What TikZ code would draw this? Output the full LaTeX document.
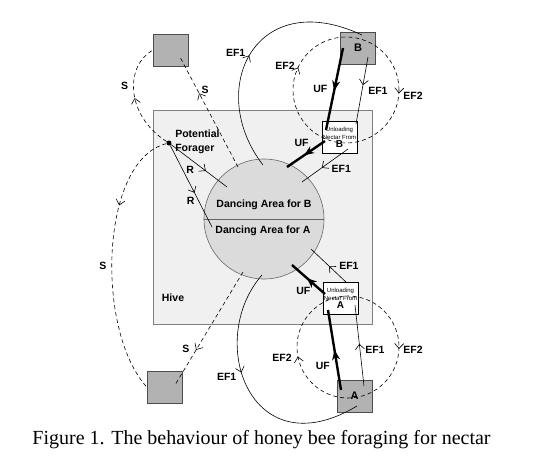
\documentclass[tikz,border=0pt]{standalone}
\usepackage{fontspec}
\setmainfont{Liberation Serif}
\setsansfont{Liberation Sans}
\usetikzlibrary{arrows.meta,decorations.markings}

\begin{document}
\begin{tikzpicture}[x=1pt, y=-1pt, line width=0.6pt,
  lbl/.style = {font=\sffamily\bfseries\fontsize{10.5}{12}\selectfont, inner sep=1pt},
  sq/.style = {draw=black!70, fill=black!30, minimum width=35pt, minimum height=32pt, inner sep=0pt, font=\sffamily\bfseries\fontsize{11}{12}\selectfont},
  unl/.style = {draw, fill=white, minimum width=35pt, minimum height=32pt, inner sep=0pt, align=center, font=\sffamily\fontsize{6}{8}\selectfont},
  mid/.style = {postaction={decorate, decoration={markings, mark=at position #1 with {\arrow{Straight Barb[length=5pt,width=9pt]}}}}},
  fly/.style = {dash pattern=on 4pt off 3pt},
  uf/.style = {line width=2.4pt, postaction={decorate, decoration={markings, mark=at position #1 with {\arrow{Stealth[length=10pt,width=8pt]}}}}}]
\path[use as bounding box, fill=white] (0,0) rectangle (533,475);

\node[draw=black!50, fill=black!6, minimum width=219pt, minimum height=214pt] (hive) at (262.5,217) {};
\node[lbl] (hl) at (173,298) {Hive};
\node[circle, draw=black!60, fill=black!14, minimum size=120pt] (dance) at (264,219) {};
\draw[black!60] (dance.west) -- (dance.east);
\node[lbl] (db) at (264,205) {Dancing Area for B};
\node[lbl] (da) at (263,231) {Dancing Area for A};

\node[sq] (s1) at (171,50) {};
\node[sq] (b) at (358,48) {B};
\node[sq] (s2) at (164.5,387) {};
\node[sq] (a) at (354.5,396) {A};
\node[unl] (ub) at (339.5,137) {Unloading\\Nectar From\\{\bfseries\fontsize{10}{10}\selectfont B}};
\node[unl] (ua) at (340.5,298) {Unloading\\Nectar From\\{\bfseries\fontsize{10}{10}\selectfont A}};
\node[circle, fill, inner sep=0pt, minimum size=5pt] (pf) at (169,143) {};
\node[lbl, anchor=west, align=left, font=\sffamily\bfseries\fontsize{10.5}{14}\selectfont] (pfl) at (174,142) {Potential\\Forager};

\coordinate (s1x) at (180,57);
\coordinate (s2x) at (175,385);
\coordinate (d1) at (238,167);
\coordinate (d2) at (243,272);
\coordinate (r1) at (227,187);
\coordinate (r2) at (212,227);
\coordinate (e1) at (263,165);
\coordinate (e2) at (262,275);
\coordinate (bx) at (362,35);
\coordinate (ax) at (357,406);
\coordinate (b1) at (368,57);
\coordinate (b2) at (343,48);
\coordinate (ub1) at (356,124);
\coordinate (ub2) at (326,130);
\coordinate (ub3) at (325,141);
\coordinate (ub4) at (348,149);
\coordinate (d3) at (287,167);
\coordinate (d4) at (302,182);
\coordinate (a1) at (364,386);
\coordinate (a2) at (341,390);
\coordinate (ua1) at (355,305);
\coordinate (ua2) at (328,310);
\coordinate (ua3) at (325,294);
\coordinate (ua4) at (347,283);
\coordinate (d5) at (292,265);
\coordinate (d6) at (311,249);
\coordinate (cb) at (346,90);
\coordinate (ca) at (348,347);

\draw[fly, mid=0.5] (pf) .. controls (125,115) and (125,65) .. (s1.west) node[lbl, pos=0.55, left=4pt] {S};
\draw[fly, mid=0.67] (d1) -- (s1x) node[lbl, pos=0.7, right=3pt] {S};
\draw[fly, mid=0.3] (pf) .. controls (100,160) and (95,330) .. (s2.west) node[lbl, pos=0.55, left=4pt] {S};
\draw[fly, mid=0.69] (d2) -- (s2x) node[lbl, pos=0.68, left=6pt] {S};
\draw[mid=0.62] (pf) -- (r1) node[lbl, pos=0.45, below left=1pt] {R};
\draw[mid=0.58] (pf) -- (r2) node[lbl, pos=0.68, left=3pt] {R};

\draw[mid=0.48] (e1) .. controls (205,90) and (255,-15) .. (bx) node[lbl, pos=0.5, left=4pt] {EF1};
\draw[mid=0.42] (e2) .. controls (205,340) and (250,470) .. (ax) node[lbl, pos=0.44, left=5pt] {EF1};
\draw[fly, mid=0.01, mid=0.57] (cb) circle[radius=53];
\node[lbl] (f2bl) at (285,66) {EF2};
\node[lbl] (f2br) at (413,96) {EF2};
\draw[fly, mid=0.006, mid=0.47] (ca) circle[radius=51];
\node[lbl] (f2al) at (282,358) {EF2};
\node[lbl] (f2ar) at (413,350) {EF2};

\draw[mid=0.42] (b1) -- (ub1) node[lbl, pos=0.5, right=5pt] {EF1};
\draw[uf=0.52] (b2) -- (ub2) node[lbl, pos=0.5, left=5pt] {UF};
\draw[uf=0.55] (ub3) -- (d3) node[lbl, pos=0.35, above left=1pt] {UF};
\draw[mid=0.57] (ub4) -- (d4) node[lbl, pos=0.6, anchor=west, xshift=10pt] {EF1};

\draw[mid=0.52] (a1) -- (ua1) node[lbl, pos=0.45, right=4pt] {EF1};
\draw[uf=0.5] (a2) -- (ua2) node[lbl, pos=0.3, left=5pt] {UF};
\draw[uf=0.55] (ua3) -- (d5) node[lbl, pos=0.35, below left=1pt] {UF};
\draw[mid=0.5] (ua4) -- (d6) node[lbl, pos=0.5, anchor=west, xshift=9pt] {EF1};

\node[anchor=base, font=\fontsize{20}{24}\selectfont] (cap) at (261.5,444) {Figure 1. The behaviour of honey bee foraging for nectar};
\end{tikzpicture}
\end{document}
